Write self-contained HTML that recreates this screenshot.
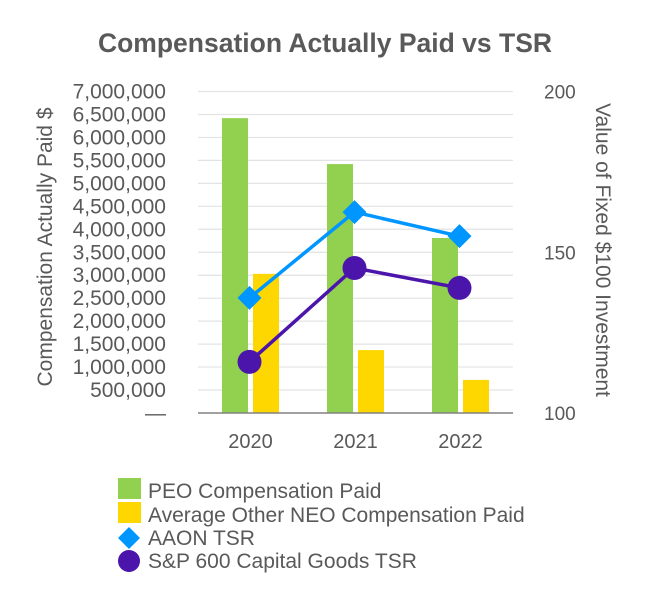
<!DOCTYPE html>
<html><head><meta charset="utf-8"><style>
html,body{margin:0;padding:0;background:#fff;}
svg{display:block;font-family:"Liberation Sans",Arial,sans-serif;}
</style></head><body>
<svg id="chart" width="650" height="600" viewBox="0 0 650 600">
<text x="325" y="52" text-anchor="middle" font-size="26.5" font-weight="bold" fill="#595959">Compensation Actually Paid vs TSR</text>
<g id="grid"></g><g id="bars"></g><g id="lines"></g><g id="axes"></g>
<text transform="translate(52,247) rotate(-90)" text-anchor="middle" font-size="21" fill="#595959">Compensation Actually Paid $</text>
<text transform="translate(596,250) rotate(90)" text-anchor="middle" font-size="21" fill="#595959">Value of Fixed $100 Investment</text>
<g>
<rect x="118" y="478" width="23" height="21" fill="#92d050"/>
<text x="148" y="498" font-size="21" fill="#595959">PEO Compensation Paid</text>
<rect x="118" y="502" width="23" height="21" fill="#ffd700"/>
<text x="148" y="522" font-size="21" fill="#595959">Average Other NEO Compensation Paid</text>
<polygon points="129,527 140,538 129,549 118,538" fill="#0096ff"/>
<text x="148" y="545" font-size="21" fill="#595959">AAON TSR</text>
<circle cx="129" cy="561" r="11" fill="#4b14aa"/>
<text x="148" y="568" font-size="21" fill="#595959">S&amp;P 600 Capital Goods TSR</text>
</g>
</svg>
<script>
const categories = ["2020","2021","2022"];
const peoValues = [6420000, 5420000, 3810000];
const neoValues = [3030000, 1370000, 720000];
const aaonTSR = [135.8, 162.5, 155];
const spTSR = [115.9, 145.1, 138.9];
const leftTicks = [0,500000,1000000,1500000,2000000,2500000,3000000,3500000,4000000,4500000,5000000,5500000,6000000,6500000,7000000];
const rightTicks = [100,150,200];

const NS="http://www.w3.org/2000/svg";
const X0=198,X1=513,Y0=413,Y1=91.5;
const band=(X1-X0)/categories.length;
const yL=v=>Y0-(v/7000000)*(Y0-Y1);
const yR=v=>Y0-((v-100)/100)*(Y0-Y1);
const xC=i=>X0+band*(i+0.5);
function mk(tag,attrs,parent){const e=document.createElementNS(NS,tag);for(const k in attrs)e.setAttribute(k,attrs[k]);document.getElementById(parent).appendChild(e);return e;}
const fmt=v=>v===0?"—":v.toLocaleString("en-US");
leftTicks.forEach(v=>{
  if(v>0){const g=mk("line",{x1:X0,x2:X1,y1:yL(v),y2:yL(v),stroke:"#e3e3e3","stroke-width":1.2},"grid");
  
  }
  const t=mk("text",{x:166,y:yL(v)+7,"text-anchor":"end","font-size":21,fill:"#595959"},"axes");
  t.textContent=fmt(v);
  
  
});
rightTicks.forEach(v=>{
  const t=mk("text",{x:544,y:yR(v)+7,"font-size":19,fill:"#595959"},"axes");
  t.textContent=v;
  
  
});
const base=mk("line",{x1:X0,x2:X1,y1:Y0,y2:Y0,stroke:"#808080","stroke-width":1.5},"axes");


categories.forEach((c,i)=>{
  const t=mk("text",{x:xC(i),y:448,"text-anchor":"middle","font-size":20,fill:"#595959"},"axes");
  t.textContent=c;
  
  
  const b1=mk("rect",{x:xC(i)-28.5,y:yL(peoValues[i]),width:26,height:Y0-yL(peoValues[i]),fill:"#92d050"},"bars");
  
  
  const b2=mk("rect",{x:xC(i)+2.5,y:yL(neoValues[i]),width:26,height:Y0-yL(neoValues[i]),fill:"#ffd700"},"bars");
  
  
});
function series(vals,color,name,marker){
  const pts=vals.map((v,i)=>[xC(i)-1,yR(v)]);
  const l=mk("polyline",{points:pts.map(p=>p.join(",")).join(" "),fill:"none",stroke:color,"stroke-width":3.5},"lines");
  
  
  pts.forEach((p,i)=>{
    let m;
    if(marker==="diamond") m=mk("polygon",{points:`${p[0]},${p[1]-12} ${p[0]+12},${p[1]} ${p[0]},${p[1]+12} ${p[0]-12},${p[1]}`,fill:color},"lines");
    else m=mk("circle",{cx:p[0],cy:p[1],r:12,fill:color},"lines");
    
    
  });
}
series(aaonTSR,"#0096ff","aaon-tsr","diamond");
series(spTSR,"#4b14aa","sp600-tsr","circle");
</script>
</body></html>
